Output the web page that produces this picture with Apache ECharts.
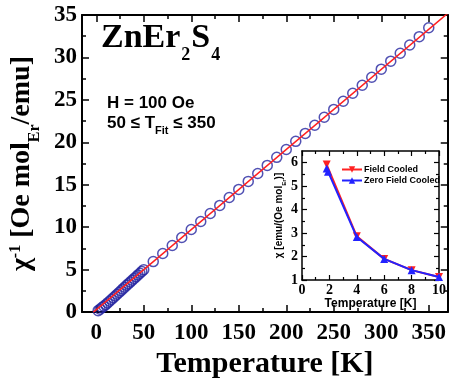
<!DOCTYPE html>
<html><head><meta charset="utf-8">
<script src="https://cdn.jsdelivr.net/npm/echarts@6/dist/echarts.min.js"></script>
<style>html,body{margin:0;padding:0;background:#fff}#c{width:449px;height:384px}</style>
</head><body><div id="c"></div>
<script>
// ---- main panel data: inverse susceptibility vs temperature ----
const tempK = [2,4,6,8,10,12,14,16,18,20,22,24,26,28,30,32,34,36,38,40,42,44,46,48,50,
  60,70,80,90,100,110,120,130,140,150,160,170,180,190,200,210,220,230,240,250,260,270,280,290,300,310,320,330,340,350];
const invChi = [0.17,0.35,0.53,0.70,0.88,1.08,1.28,1.48,1.69,1.90,2.10,2.31,2.52,2.73,2.94,3.15,3.35,3.56,3.76,3.97,4.17,4.38,4.58,4.79,5.00,
  5.95,6.90,7.84,8.79,9.73,10.68,11.62,12.57,13.50,14.45,15.40,16.33,17.28,18.23,19.16,20.12,21.05,22.01,22.95,23.88,24.84,25.78,26.73,27.66,28.62,29.56,30.50,31.46,32.45,33.50];
// Curie-Weiss fit line
const fitT = [-3, 370];
const fitInvChi = [0, 35.2];
// tick values
const xMajor = [0,50,100,150,200,250,300,350];
const xMinor = [25,75,125,175,225,275,325];
const yMajor = [0,5,10,15,20,25,30,35];
const yMinor = [2.5,7.5,12.5,17.5,22.5,27.5,32.5];
// ---- inset data: susceptibility at low temperature ----
const fcT = [1.8,4,6,8,10];
const fcChi = [5.92,2.86,1.90,1.42,1.13];
const zfcT = [1.8,1.9,4,6,8,10];
const zfcChi = [5.75,5.62,2.83,1.90,1.42,1.13];
const inXMajor = [0,2,4,6,8,10];
const inXMinor = [1,3,5,7,9];
const inYMajor = [1,2,3,4,5,6];
const inYMinor = [1.5,2.5,3.5,4.5,5.5];

const SERIF = '"Liberation Serif","Times New Roman",serif';
const SANS = '"Liberation Sans",Arial,sans-serif';
const zip = (a,b) => a.map((v,i)=>[v,b[i]]);

function axis(o){
  return {
    type:'value', gridIndex:o.grid, position:o.pos, min:o.min, max:o.max,
    axisLine:{show:o.line!==false, onZero:false, lineStyle:{color:'#000', width:o.lw||1}},
    axisTick:{show:true, inside:true, length:o.tl, lineStyle:{color:'#000', width:o.tw}, customValues:o.ticks},
    axisLabel:o.label ? Object.assign({show:true, customValues:o.ticks, color:'#000'}, o.label) : {show:false},
    splitLine:{show:false}, minorTick:{show:false},
    name:o.name||'', nameLocation:'middle', nameGap:o.nameGap||0, nameTextStyle:o.nameStyle||{}
  };
}
const mainLab = {fontFamily:SERIF, fontWeight:'bold', fontSize:23};
const inLab = {fontFamily:SERIF, fontWeight:'bold', fontSize:14};

const xAxes = [
  axis({grid:0,pos:'bottom',min:-15,max:370,ticks:xMajor,lw:2,tl:7,tw:1.5,label:Object.assign({margin:9},mainLab),
    name:'Temperature [K]',nameGap:30,nameStyle:{fontFamily:SERIF,fontWeight:'bold',fontSize:30,color:'#000'}}),
  axis({grid:0,pos:'bottom',min:-15,max:370,ticks:xMinor,line:false,tl:4,tw:1.5}),
  axis({grid:0,pos:'top',min:-15,max:370,ticks:xMajor,lw:2,tl:7,tw:1.5}),
  axis({grid:0,pos:'top',min:-15,max:370,ticks:xMinor,line:false,tl:4,tw:1.5}),
  axis({grid:1,pos:'bottom',min:0,max:10,ticks:inXMajor,lw:1.5,tl:5,tw:1.2,label:Object.assign({margin:3},inLab),
    name:'Temperature [K]',nameGap:17,nameStyle:{fontFamily:SANS,fontWeight:'bold',fontSize:12,color:'#000'}}),
  axis({grid:1,pos:'bottom',min:0,max:10,ticks:inXMinor,line:false,tl:3,tw:1.2}),
  axis({grid:1,pos:'top',min:0,max:10,ticks:inXMajor,lw:1.5,tl:5,tw:1.2}),
  axis({grid:1,pos:'top',min:0,max:10,ticks:inXMinor,line:false,tl:3,tw:1.2})
];
const yAxes = [
  axis({grid:0,pos:'left',min:0,max:35,ticks:yMajor,lw:2,tl:7,tw:1.5,label:Object.assign({margin:5},mainLab),
    name:'{m|χ}{sp|-1}{m| [Oe mol}{sb|Er}{m|/emu]}',nameGap:38,
    nameStyle:{color:'#000',rich:{
      m:{fontFamily:SERIF,fontWeight:'bold',fontSize:28,verticalAlign:'top',color:'#000'},
      sp:{fontFamily:SERIF,fontWeight:'bold',fontSize:16,verticalAlign:'top',color:'#000'},
      sb:{fontFamily:SERIF,fontWeight:'bold',fontSize:16,verticalAlign:'top',padding:[19,0,0,0],color:'#000'}}}}),
  axis({grid:0,pos:'left',min:0,max:35,ticks:yMinor,line:false,tl:4,tw:1.5}),
  axis({grid:0,pos:'right',min:0,max:35,ticks:yMajor,lw:2,tl:7,tw:1.5}),
  axis({grid:0,pos:'right',min:0,max:35,ticks:yMinor,line:false,tl:4,tw:1.5}),
  axis({grid:1,pos:'left',min:1,max:6.5,ticks:inYMajor,lw:1.5,tl:5,tw:1.2,label:Object.assign({margin:4},inLab),
    name:'{i|χ [emu/(Oe mol}{s|Er}{i|)]}',nameGap:15,
    nameStyle:{color:'#000',rich:{
      i:{fontFamily:SANS,fontWeight:'bold',fontSize:10,verticalAlign:'top',color:'#000'},
      s:{fontFamily:SANS,fontWeight:'bold',fontSize:6,verticalAlign:'top',padding:[7,0,0,0],color:'#000'}}}}),
  axis({grid:1,pos:'left',min:1,max:6.5,ticks:inYMinor,line:false,tl:3,tw:1.2}),
  axis({grid:1,pos:'right',min:1,max:6.5,ticks:inYMajor,lw:1.5,tl:5,tw:1.2}),
  axis({grid:1,pos:'right',min:1,max:6.5,ticks:inYMinor,line:false,tl:3,tw:1.2})
];

const chart = echarts.init(document.getElementById('c'), null, {renderer:'canvas'});
chart.setOption({
  backgroundColor:'#fff',
  animation:false,
  grid:[
    {left:82, top:15, width:366, height:302, containLabel:false},
    {left:302, top:151, width:139, height:129, show:true, backgroundColor:'#fff', borderWidth:0, containLabel:false}
  ],
  xAxis:xAxes,
  yAxis:yAxes,
  legend:{
    show:true, orient:'vertical', left:336, top:160, itemWidth:20, itemHeight:8, itemGap:2,
    textStyle:{fontFamily:SANS, fontWeight:'bold', fontSize:9, color:'#000', padding:[0,0,0,-3]},
    data:['Field Cooled','Zero Field Cooled']
  },
  graphic:[
    {type:'text', left:101, top:21, style:{text:'{a|ZnEr}{b|2}{a|S}{b|4}', rich:{
      a:{fontFamily:SERIF,fontWeight:'bold',fontSize:34,verticalAlign:'top',fill:'#000'},
      b:{fontFamily:SERIF,fontWeight:'bold',fontSize:18,verticalAlign:'top',padding:[25,1,0,1],fill:'#000'}}}},
    {type:'text', left:107, top:95, style:{text:'H = 100 Oe', font:'bold 17px '+SANS, fill:'#000'}},
    {type:'text', left:107, top:115, style:{text:'{a|50 ≤ T}{b|Fit}{a| ≤ 350}', rich:{
      a:{fontFamily:SANS,fontWeight:'bold',fontSize:17,verticalAlign:'top',fill:'#000'},
      b:{fontFamily:SANS,fontWeight:'bold',fontSize:11,verticalAlign:'top',padding:[10,0,0,0],fill:'#000'}}}}
  ],
  series:[
    {type:'scatter', name:'data', xAxisIndex:0, yAxisIndex:0, data:zip(tempK,invChi), symbol:'circle', symbolSize:10,
      itemStyle:{color:'rgba(0,0,0,0)', borderColor:'#2525a0', borderWidth:1.5}, z:3},
    {type:'line', name:'fit', xAxisIndex:0, yAxisIndex:0, data:zip(fitT,fitInvChi), showSymbol:false, symbol:'none',
      lineStyle:{color:'#ff2020', width:1.5}, z:4},
    {type:'line', name:'Field Cooled', xAxisIndex:4, yAxisIndex:4, data:zip(fcT,fcChi),
      symbol:'path://M0,0L10,0L5,9Z', symbolSize:8, color:'#ff2222',
      itemStyle:{color:'#ff2222'}, lineStyle:{color:'#ff2222', width:2}, z:5},
    {type:'line', name:'Zero Field Cooled', xAxisIndex:4, yAxisIndex:4, data:zip(zfcT,zfcChi),
      symbol:'triangle', symbolSize:8, color:'#2222ff',
      itemStyle:{color:'#2222ff'}, lineStyle:{color:'#2222ff', width:2}, z:6}
  ]
});
</script></body></html>
